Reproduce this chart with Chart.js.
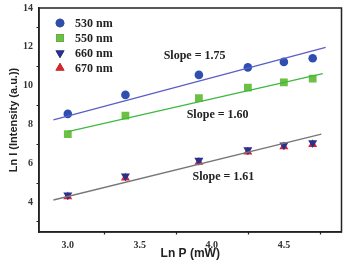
<!DOCTYPE html>
<html>
<head>
<meta charset="utf-8">
<script src="https://cdn.jsdelivr.net/npm/chart.js@4"></script>
<style>
  html, body { margin: 0; padding: 0; background: #fff; }
  #wrap { width: 347px; height: 261px; position: relative; }
</style>
</head>
<body>
<div id="wrap"><canvas id="chart"></canvas></div>
<script>
// Ln P values (mW)
const lnP = [3.0, 3.4, 3.91, 4.25, 4.5, 4.7];

// Ln I values per wavelength
const nm530 = [8.54, 9.52, 10.55, 10.94, 11.22, 11.41];
const nm550 = [7.5, 8.45, 9.35, 9.89, 10.17, 10.36];
const nm660 = [4.35, 5.33, 6.14, 6.68, 6.93, 7.05];
const nm670 = [4.27, 5.24, 6.05, 6.58, 6.85, 6.97];

// fitted lines (end points)
const fit530 = [[2.9, 8.23], [4.79, 11.97]];
const fit550 = [[3.0, 7.62], [4.77, 10.62]];
const fit670 = [[2.9, 4.1], [4.76, 7.5]];

const slopeLabels = [
    { text: 'Slope = 1.75', x: 3.88, y: 11.52 },
    { text: 'Slope = 1.60', x: 4.04, y: 8.47 },
    { text: 'Slope = 1.61', x: 4.08, y: 5.28 }
];

const yTicks = [4, 6, 8, 10, 12, 14];
const yMinor = [3, 5, 7, 9, 11, 13];
const xTicks = [3.0, 3.5, 4.0, 4.5];
const xMinor = [3.25, 3.75, 4.25, 4.75];

function pts(ys) {
    return lnP.map((x, i) => ({ x: x, y: ys[i] }));
}
function line(p) {
    return p.map(d => ({ x: d[0], y: d[1] }));
}

const serifBold = 'bold 12px "Liberation Serif", "Times New Roman", serif';

// legend drawn inside the plot, top-left
const insideLegend = {
    id: 'insideLegend',
    afterDatasetsDraw(chart) {
        const ctx = chart.ctx;
        const items = chart.data.datasets.filter(d => d.legendItem);
        ctx.save();
        items.forEach((ds, i) => {
            const y = 23 + i * 15;
            Chart.helpers.drawPoint(ctx, {
                pointStyle: ds.pointStyle,
                radius: ds.pointRadius,
                rotation: ds.pointRotation || 0,
                borderWidth: 0
            }, 60, y);
            ctx.fillStyle = ds.backgroundColor;
            ctx.fill();
            ctx.fillStyle = '#222';
            ctx.font = serifBold;
            ctx.textAlign = 'left';
            ctx.textBaseline = 'middle';
            ctx.fillText(ds.label, 75, y + 1);
        });
        ctx.restore();
    }
};

// slope annotations, minor ticks and frame
const extras = {
    id: 'extras',
    afterDraw(chart) {
        const ctx = chart.ctx;
        const xs = chart.scales.x, ys = chart.scales.y;
        const a = chart.chartArea;
        ctx.save();
        ctx.fillStyle = '#222';
        ctx.font = serifBold;
        ctx.textAlign = 'center';
        ctx.textBaseline = 'middle';
        slopeLabels.forEach(s => {
            ctx.fillText(s.text, xs.getPixelForValue(s.x), ys.getPixelForValue(s.y));
        });
        ctx.strokeStyle = '#222';
        ctx.lineWidth = 1.2;
        ctx.beginPath();
        yMinor.forEach(v => {
            const p = Math.round(ys.getPixelForValue(v)) + 0.5;
            ctx.moveTo(a.left, p);
            ctx.lineTo(a.left - 2.5, p);
        });
        xMinor.forEach(v => {
            const p = Math.round(xs.getPixelForValue(v)) + 0.5;
            ctx.moveTo(p, a.bottom);
            ctx.lineTo(p, a.bottom + 2.5);
        });
        ctx.stroke();
        ctx.lineWidth = 1.5;
        ctx.strokeRect(a.left, a.top, a.right - a.left, a.bottom - a.top);
        ctx.restore();
    }
};

const ctx = document.getElementById('chart').getContext('2d');

new Chart(ctx, {
    type: 'scatter',
    data: {
        datasets: [
            { label: 'fit530', data: line(fit530), showLine: true, borderColor: '#5a5ec6', borderWidth: 1.3, pointRadius: 0 },
            { label: 'fit550', data: line(fit550), showLine: true, borderColor: '#3fb83f', borderWidth: 1.3, pointRadius: 0 },
            { label: 'fit670', data: line(fit670), showLine: true, borderColor: '#777777', borderWidth: 1.3, pointRadius: 0 },
            { label: '530 nm', data: pts(nm530), legendItem: true, pointStyle: 'circle', pointRadius: 4.3, backgroundColor: '#2f4fb0', borderWidth: 0 },
            { label: '550 nm', data: pts(nm550), legendItem: true, pointStyle: 'rect', pointRadius: 5.5, backgroundColor: '#6cc046', borderWidth: 0 },
            { label: '660 nm', data: pts(nm660), legendItem: true, pointStyle: 'triangle', pointRotation: 180, pointRadius: 5.2, backgroundColor: '#27318f', borderWidth: 0 },
            { label: '670 nm', data: pts(nm670), legendItem: true, pointStyle: 'triangle', pointRadius: 5.2, backgroundColor: '#e3212a', borderWidth: 0 }
        ]
    },
    options: {
        responsive: true,
        maintainAspectRatio: false,
        animation: false,
        layout: { padding: { top: 8, right: 4, left: 0, bottom: 0 } },
        plugins: {
            legend: { display: false },
            tooltip: { enabled: false }
        },
        scales: {
            x: {
                type: 'linear',
                min: 2.8,
                max: 4.9,
                afterBuildTicks: s => { s.ticks = xTicks.map(v => ({ value: v })); },
                afterFit: s => { s.height = 29; },
                grid: { display: false, drawTicks: true, tickLength: 4, tickColor: '#222', tickWidth: 1.2 },
                border: { color: '#222', width: 1.5 },
                ticks: {
                    color: '#333',
                    padding: 3,
                    font: { family: '"Liberation Serif", "Times New Roman", serif', weight: 'bold', size: 10 },
                    callback: v => v.toFixed(1)
                },
                title: {
                    display: true,
                    text: 'Ln P (mW)',
                    color: '#222',
                    padding: { top: 2, bottom: 0 },
                    font: { family: '"Liberation Sans", Arial, sans-serif', weight: 'bold', size: 12 }
                }
            },
            y: {
                type: 'linear',
                min: 2.45,
                max: 14,
                afterBuildTicks: s => { s.ticks = yTicks.map(v => ({ value: v })); },
                afterFit: s => { s.width = 39; },
                grid: { display: false, drawTicks: true, tickLength: 4, tickColor: '#222', tickWidth: 1.2 },
                border: { color: '#222', width: 1.5 },
                ticks: {
                    color: '#333',
                    padding: 2,
                    font: { family: '"Liberation Serif", "Times New Roman", serif', weight: 'bold', size: 10 }
                },
                title: {
                    display: true,
                    text: 'Ln I (Intensity (a.u.))',
                    color: '#222',
                    padding: { top: 7, bottom: 0 },
                    font: { family: '"Liberation Sans", Arial, sans-serif', weight: 'bold', size: 11 }
                }
            }
        }
    },
    plugins: [insideLegend, extras]
});
</script>
</body>
</html>
